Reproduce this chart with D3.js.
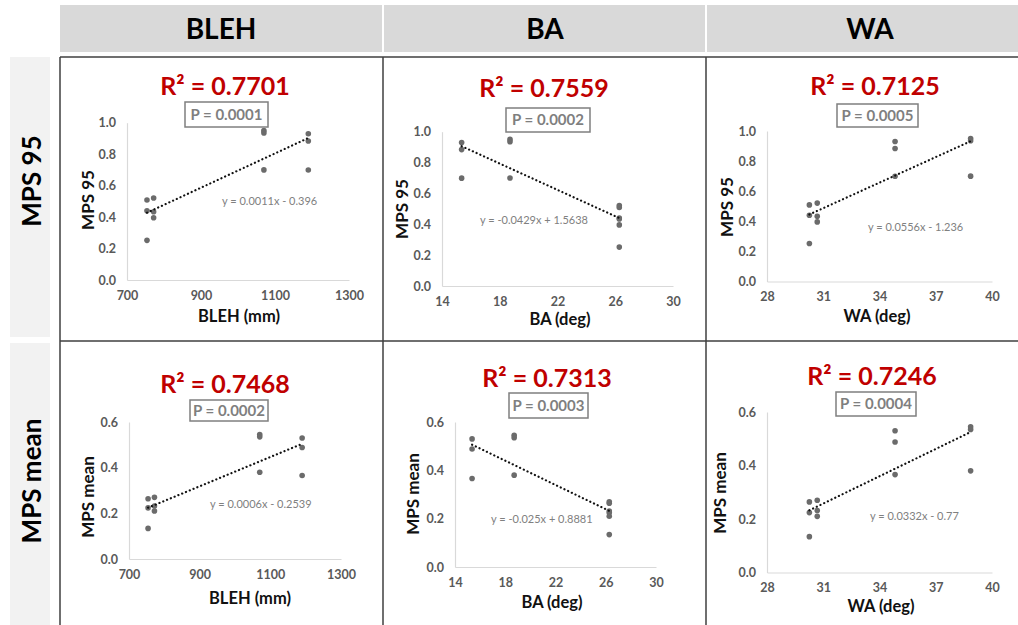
<!DOCTYPE html>
<html>
<head>
<meta charset="utf-8">
<script src="https://cdn.jsdelivr.net/npm/d3@7"></script>
<style>
	body { margin: 0; background: #fff; }
	svg { display: block; font-family: Lato, "Open Sans", sans-serif; }
</style>
</head>
<body>
<div id="chart"></div>
<script>
// one value per subject, same order in every array
const blehMm = [754, 754, 754, 772, 772, 772, 1070, 1070, 1070, 1190, 1190, 1190];
const baDeg = [26.28, 26.28, 26.28, 26.28, 26.28, 26.28, 18.71, 18.71, 18.71, 15.36, 15.36, 15.36];
const waDeg = [30.26, 30.26, 30.26, 30.68, 30.68, 30.68, 38.86, 38.86, 38.86, 34.83, 34.83, 34.83];
const mps95 = [0.509, 0.44, 0.252, 0.521, 0.434, 0.396, 0.935, 0.95, 0.70, 0.93, 0.884, 0.699];
const mpsMean = [0.264, 0.224, 0.134, 0.270, 0.232, 0.210, 0.545, 0.535, 0.380, 0.530, 0.488, 0.366];

const colHeaders = ['BLEH', 'BA', 'WA'];
const rowHeaders = ['MPS 95', 'MPS mean'];
const xTitles = ['BLEH (mm)', 'BA (deg)', 'WA (deg)'];
const xTicks = [[700, 900, 1100, 1300], [14, 18, 22, 26, 30], [28, 31, 34, 37, 40]];
const yTicks = [[0, 0.2, 0.4, 0.6, 0.8, 1.0], [0, 0.2, 0.4, 0.6]];
const r2Values = [['0.7701', '0.7559', '0.7125'], ['0.7468', '0.7313', '0.7246']];
const pValues = [['0.0001', '0.0002', '0.0005'], ['0.0002', '0.0003', '0.0004']];
const equations = [
	['y = 0.0011x - 0.396', 'y = -0.0429x + 1.5638', 'y = 0.0556x - 1.236'],
	['y = 0.0006x - 0.2539', 'y = -0.025x + 0.8881', 'y = 0.0332x - 0.77']
];

const xSeries = [blehMm, baDeg, waDeg];
const ySeries = [mps95, mpsMean];

// where each little chart sits on the page (row by row)
const frames = [
	{ x: [127, 349], y: [280, 122.7], title: [225, 95], pbox: [185, 102, 83, 25], eq: [222, 205], yLab: [88, 200], xLab: [239, 322] },
	{ x: [442, 673], y: [286, 131.7], title: [544, 97], pbox: [506, 108, 84, 24], eq: [480, 224], yLab: [402, 209], xLab: [560, 325] },
	{ x: [767, 992], y: [281.5, 131], title: [875, 94.5], pbox: [837, 104, 81, 23], eq: [868, 231], yLab: [727, 207], xLab: [877, 322] },
	{ x: [129, 341], y: [559, 422], title: [225, 393], pbox: [190, 400, 78, 21], eq: [210, 508], yLab: [88, 497], xLab: [250, 604] },
	{ x: [455, 656], y: [567, 422], title: [547, 387], pbox: [509, 393, 79, 25], eq: [491, 523], yLab: [413, 494], xLab: [552, 608] },
	{ x: [767, 992], y: [572.5, 412], title: [872, 385], pbox: [836, 392, 80, 24], eq: [870, 520], yLab: [720, 493], xLab: [881, 612] }
];

const width = 1018, height = 625;

const svg = d3.select('#chart').append('svg')
	.attr('width', width)
	.attr('height', height);

// header band + row label column
svg.append('rect')
	.attr('x', 60).attr('y', 5)
	.attr('width', width - 60).attr('height', 47)
	.attr('fill', '#d9d9d9');
[383, 706].forEach(x => {
	svg.append('rect').attr('x', x - 1).attr('y', 5).attr('width', 2).attr('height', 47).attr('fill', '#fff');
});
[[57, 280], [343, 282]].forEach(([y, h]) => {
	svg.append('rect').attr('x', 10).attr('y', y).attr('width', 40).attr('height', h).attr('fill', '#f2f2f2');
});

const colCenters = [221, 545, 870];
svg.selectAll('.col-head')
	.data(colHeaders)
	.enter().append('text')
	.attr('class', 'col-head')
	.attr('x', (d, i) => colCenters[i])
	.attr('y', 39)
	.attr('text-anchor', 'middle')
	.attr('font-size', 28)
	.attr('font-weight', 'bold')
	.attr('fill', '#000')
	.text(d => d);

const rowCenters = [181, 481];
svg.selectAll('.row-head')
	.data(rowHeaders)
	.enter().append('text')
	.attr('class', 'row-head')
	.attr('transform', (d, i) => `translate(32,${rowCenters[i]}) rotate(-90)`)
	.attr('dy', '0.36em')
	.attr('text-anchor', 'middle')
	.attr('font-size', 26)
	.attr('font-weight', 'bold')
	.attr('fill', '#000')
	.text(d => d);

// cell borders
const borderColor = '#3f3f3f';
[57, 341].forEach(y => {
	svg.append('line').attr('x1', 60).attr('x2', width).attr('y1', y).attr('y2', y)
		.attr('stroke', borderColor).attr('stroke-width', 1.5);
});
[60, 383, 706].forEach(x => {
	svg.append('line').attr('x1', x).attr('x2', x).attr('y1', 57).attr('y2', height)
		.attr('stroke', borderColor).attr('stroke-width', 1.5);
});

// least squares line through the points
const fitLine = (xs, ys) => {
	const mx = d3.mean(xs), my = d3.mean(ys);
	const sxy = d3.sum(xs, (x, i) => (x - mx) * (ys[i] - my));
	const sxx = d3.sum(xs, x => (x - mx) * (x - mx));
	const slope = sxy / sxx;
	return { slope: slope, intercept: my - slope * mx };
};

const drawPanel = (row, col) => {
	const f = frames[row * 3 + col];
	const xs = xSeries[col], ys = ySeries[row];
	const xt = xTicks[col], yt = yTicks[row];

	const x = d3.scaleLinear().domain([xt[0], xt[xt.length - 1]]).range(f.x);
	const y = d3.scaleLinear().domain([0, yt[yt.length - 1]]).range(f.y);
	const g = svg.append('g');

	const xAxis = g.append('g')
		.attr('transform', `translate(0,${f.y[0]})`)
		.call(d3.axisBottom(x).tickValues(xt).tickSize(0).tickSizeOuter(0).tickPadding(11).tickFormat(d3.format('d')));
	const yAxis = g.append('g')
		.attr('transform', `translate(${f.x[0]},0)`)
		.call(d3.axisLeft(y).tickValues(yt).tickSize(0).tickSizeOuter(0).tickPadding(11).tickFormat(d3.format('.1f')));
	[xAxis, yAxis].forEach(a => {
		a.select('.domain').attr('stroke', '#d9d9d9').attr('stroke-width', 1.2);
		a.selectAll('text')
			.attr('font-family', 'Lato, sans-serif')
			.attr('font-size', 12.5)
			.attr('font-weight', 'bold')
			.attr('fill', '#595959');
	});

	g.selectAll('.pt')
		.data(xs.map((v, i) => [v, ys[i]]))
		.enter().append('circle')
		.attr('class', 'pt')
		.attr('cx', d => x(d[0]))
		.attr('cy', d => y(d[1]))
		.attr('r', 2.8)
		.attr('fill', '#6b6b6b');

	const fit = fitLine(xs, ys);
	const ext = d3.extent(xs);
	g.append('line')
		.attr('x1', x(ext[0])).attr('y1', y(fit.slope * ext[0] + fit.intercept))
		.attr('x2', x(ext[1])).attr('y2', y(fit.slope * ext[1] + fit.intercept))
		.attr('stroke', '#111')
		.attr('stroke-width', 2.2)
		.attr('stroke-linecap', 'round')
		.attr('stroke-dasharray', '0.1 4');

	g.append('text')
		.attr('x', f.eq[0]).attr('y', f.eq[1])
		.attr('font-size', 11)
		.attr('fill', '#808080')
		.text(equations[row][col]);

	g.append('text')
		.attr('x', f.title[0]).attr('y', f.title[1])
		.attr('text-anchor', 'middle')
		.attr('font-size', 25)
		.attr('font-weight', 'bold')
		.attr('fill', '#c00000')
		.text(`R² = ${r2Values[row][col]}`);

	const [bx, by, bw, bh] = f.pbox;
	g.append('rect')
		.attr('x', bx).attr('y', by).attr('width', bw).attr('height', bh)
		.attr('fill', 'none')
		.attr('stroke', '#7f7f7f')
		.attr('stroke-width', 1.5);
	g.append('text')
		.attr('x', bx + bw / 2).attr('y', by + bh / 2)
		.attr('dy', '0.36em')
		.attr('text-anchor', 'middle')
		.attr('font-size', 15)
		.attr('font-weight', 'bold')
		.attr('fill', '#7f7f7f')
		.text(`P = ${pValues[row][col]}`);

	g.append('text')
		.attr('transform', `translate(${f.yLab[0]},${f.yLab[1]}) rotate(-90)`)
		.attr('dy', '0.36em')
		.attr('text-anchor', 'middle')
		.attr('font-size', 17)
		.attr('font-weight', 'bold')
		.attr('fill', '#111')
		.text(rowHeaders[row]);

	g.append('text')
		.attr('x', f.xLab[0]).attr('y', f.xLab[1])
		.attr('text-anchor', 'middle')
		.attr('font-size', 16.5)
		.attr('font-weight', 'bold')
		.attr('fill', '#111')
		.text(xTitles[col]);
};

for (let r = 0; r < 2; r++) {
	for (let c = 0; c < 3; c++) drawPanel(r, c);
}
</script>
</body>
</html>
